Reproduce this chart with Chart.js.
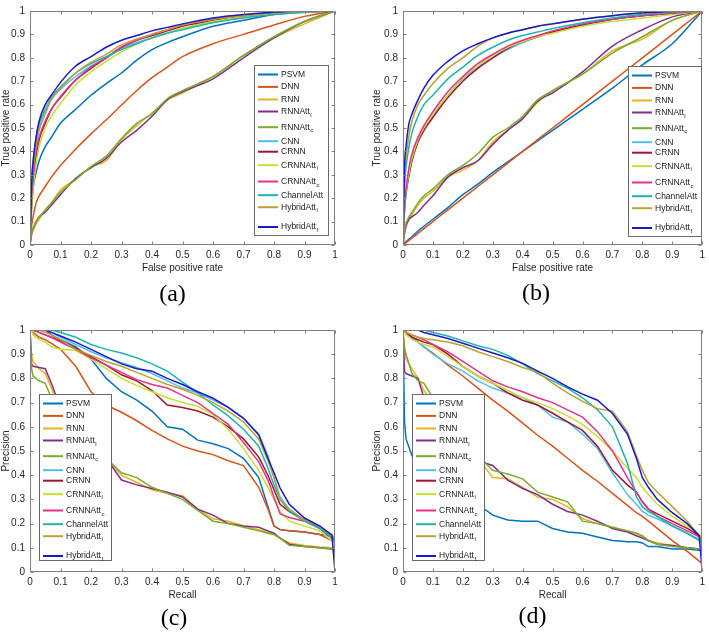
<!DOCTYPE html>
<html>
<head>
<meta charset="utf-8">
<script src="https://cdn.jsdelivr.net/npm/chart.js@4.4.0/dist/chart.umd.min.js"></script>
<style>
body{margin:0;background:#fff;width:709px;height:634px;position:relative;overflow:hidden}
canvas{position:absolute}
</style>
</head>
<body>
<canvas id="pa" width="354" height="317" style="left:0;top:0"></canvas>
<canvas id="pb" width="355" height="317" style="left:354px;top:0"></canvas>
<canvas id="pc" width="354" height="317" style="left:0;top:317px"></canvas>
<canvas id="pd" width="355" height="317" style="left:354px;top:317px"></canvas>
<script>
/* series */
const seriesNames=['PSVM','DNN','RNN','RNNAtt','RNNAtt','CNN','CRNN','CRNNAtt','CRNNAtt','ChannelAtt','HybridAtt','HybridAtt'];
const seriesSubs=['','','','l','c','','','l','c','','l','f'];
const seriesColors=['#0072BD','#D95319','#EDB120','#7E2F8E','#77AC30','#4DBEEE','#A2142F','#C5E030','#E6308C','#1EB4AE','#BCA032','#1818CC'];

const tickLabels=['0','0.1','0.2','0.3','0.4','0.5','0.6','0.7','0.8','0.9','1'];

/* ROC: false positive rate samples */
const rocX=[0,0.005,0.01,0.02,0.03,0.05,0.07,0.1,0.15,0.2,0.25,0.3,0.35,0.4,0.45,0.5,0.6,0.7,0.8,0.9,1];

/* (a) true positive rate, one row per series */
const rocA=[
[0,0.15,0.24,0.31,0.36,0.42,0.46,0.52,0.58,0.64,0.69,0.735,0.79,0.835,0.865,0.89,0.935,0.96,0.985,0.995,1],
[0,0.08,0.12,0.18,0.21,0.25,0.29,0.34,0.41,0.475,0.535,0.598,0.66,0.715,0.76,0.805,0.86,0.9,0.94,0.977,1],
[0,0.04,0.06,0.09,0.11,0.15,0.18,0.235,0.28,0.335,0.36,0.45,0.51,0.565,0.62,0.65,0.72,0.81,0.885,0.945,1],
[0,0.05,0.07,0.1,0.12,0.14,0.17,0.215,0.285,0.33,0.37,0.44,0.49,0.55,0.62,0.655,0.71,0.8,0.885,0.955,1],
[0,0.05,0.07,0.1,0.12,0.15,0.18,0.225,0.28,0.335,0.38,0.455,0.52,0.56,0.625,0.66,0.72,0.81,0.89,0.955,1],
[0,0.25,0.33,0.43,0.49,0.56,0.62,0.665,0.72,0.765,0.8,0.84,0.865,0.885,0.905,0.925,0.955,0.975,0.99,0.997,1],
[0,0.18,0.27,0.38,0.45,0.52,0.58,0.63,0.705,0.755,0.8,0.845,0.875,0.895,0.915,0.935,0.96,0.98,0.993,0.998,1],
[0,0.16,0.24,0.35,0.42,0.5,0.55,0.605,0.685,0.74,0.785,0.825,0.86,0.885,0.905,0.925,0.955,0.975,0.99,0.997,1],
[0,0.2,0.28,0.4,0.46,0.53,0.58,0.635,0.705,0.76,0.8,0.845,0.875,0.9,0.92,0.94,0.965,0.98,0.993,0.998,1],
[0,0.28,0.36,0.46,0.52,0.58,0.63,0.675,0.735,0.775,0.805,0.835,0.86,0.885,0.905,0.92,0.95,0.97,0.985,0.995,1],
[0,0.22,0.32,0.43,0.5,0.57,0.625,0.67,0.735,0.78,0.815,0.855,0.88,0.9,0.92,0.94,0.965,0.98,0.993,0.998,1],
[0,0.24,0.35,0.46,0.53,0.6,0.64,0.695,0.765,0.805,0.845,0.875,0.895,0.915,0.93,0.945,0.97,0.985,0.995,1,1]
];

/* (b) true positive rate */
const rocB=[
[0,0.01,0.015,0.025,0.035,0.06,0.08,0.11,0.16,0.215,0.26,0.31,0.355,0.4,0.445,0.49,0.58,0.67,0.77,0.86,1],
[0,0.005,0.01,0.02,0.03,0.05,0.07,0.1,0.15,0.2,0.25,0.3,0.35,0.4,0.45,0.5,0.6,0.7,0.8,0.9,1],
[0,0.05,0.08,0.11,0.13,0.17,0.2,0.23,0.29,0.32,0.36,0.44,0.49,0.54,0.61,0.66,0.73,0.83,0.88,0.96,1],
[0,0.05,0.08,0.11,0.12,0.14,0.17,0.21,0.29,0.33,0.36,0.43,0.49,0.54,0.615,0.65,0.74,0.85,0.92,0.975,1],
[0,0.06,0.09,0.12,0.14,0.18,0.21,0.24,0.3,0.34,0.39,0.46,0.5,0.55,0.62,0.66,0.73,0.82,0.89,0.96,1],
[0,0.15,0.22,0.3,0.36,0.44,0.5,0.555,0.64,0.71,0.76,0.8,0.835,0.865,0.89,0.91,0.94,0.965,0.98,0.99,1],
[0,0.15,0.22,0.3,0.36,0.44,0.49,0.545,0.63,0.7,0.755,0.8,0.84,0.87,0.89,0.91,0.94,0.965,0.98,0.99,1],
[0,0.16,0.23,0.31,0.37,0.45,0.5,0.56,0.64,0.715,0.765,0.81,0.845,0.87,0.89,0.905,0.935,0.955,0.97,0.985,1],
[0,0.17,0.24,0.33,0.39,0.46,0.51,0.57,0.655,0.72,0.775,0.815,0.85,0.875,0.895,0.915,0.945,0.965,0.98,0.99,1],
[0,0.25,0.33,0.42,0.48,0.55,0.6,0.64,0.71,0.76,0.81,0.845,0.875,0.895,0.91,0.925,0.95,0.97,0.985,0.995,1],
[0,0.28,0.37,0.47,0.53,0.6,0.64,0.69,0.755,0.8,0.85,0.885,0.905,0.92,0.935,0.945,0.965,0.98,0.99,0.997,1],
[0,0.33,0.42,0.52,0.56,0.62,0.67,0.725,0.785,0.83,0.86,0.885,0.905,0.92,0.935,0.945,0.965,0.98,0.992,0.998,1]
];

/* PR: recall samples */
const prX=[0,0.005,0.01,0.03,0.05,0.07,0.1,0.15,0.2,0.25,0.3,0.35,0.4,0.45,0.5,0.55,0.6,0.65,0.7,0.75,0.78,0.8,0.82,0.85,0.9,0.95,0.99,1];

/* (c) precision */
const prC=[
[1,1,1,1,1,0.98,0.96,0.93,0.88,0.8,0.745,0.71,0.665,0.6,0.59,0.545,0.53,0.51,0.47,0.39,0.27,0.19,0.175,0.17,0.165,0.155,0.15,0.13],
[1,1,0.99,0.97,0.96,0.945,0.92,0.85,0.745,0.69,0.66,0.625,0.585,0.55,0.52,0.5,0.485,0.46,0.44,0.35,0.26,0.19,0.175,0.17,0.165,0.155,0.13,0.12],
[1,0.9,0.87,0.84,0.82,0.76,0.66,0.6,0.53,0.47,0.4,0.37,0.34,0.325,0.315,0.26,0.22,0.21,0.19,0.175,0.165,0.155,0.14,0.12,0.11,0.103,0.1,0.095],
[1,0.86,0.85,0.845,0.84,0.78,0.68,0.6,0.52,0.47,0.38,0.36,0.345,0.33,0.31,0.26,0.235,0.2,0.19,0.185,0.17,0.16,0.14,0.115,0.105,0.1,0.095,0.095],
[1,0.84,0.81,0.79,0.78,0.72,0.65,0.59,0.52,0.47,0.41,0.39,0.35,0.325,0.3,0.255,0.21,0.2,0.185,0.17,0.16,0.155,0.14,0.11,0.105,0.1,0.095,0.095],
[1,1,1,1,1,0.99,0.97,0.94,0.91,0.885,0.865,0.845,0.82,0.79,0.76,0.74,0.71,0.68,0.635,0.57,0.48,0.39,0.31,0.26,0.21,0.18,0.14,0.13],
[1,1,1,0.99,0.98,0.97,0.955,0.925,0.89,0.855,0.815,0.79,0.75,0.69,0.68,0.665,0.64,0.6,0.55,0.475,0.4,0.34,0.28,0.25,0.215,0.18,0.14,0.12],
[1,1,0.98,0.96,0.95,0.93,0.92,0.915,0.88,0.84,0.8,0.77,0.745,0.72,0.7,0.685,0.65,0.59,0.51,0.42,0.35,0.3,0.25,0.21,0.19,0.17,0.13,0.12],
[1,1,1,0.99,0.98,0.97,0.95,0.92,0.885,0.855,0.825,0.795,0.775,0.76,0.73,0.7,0.655,0.61,0.535,0.455,0.38,0.31,0.24,0.225,0.21,0.18,0.15,0.14],
[1,1,1,1,1,1,0.99,0.97,0.94,0.92,0.905,0.885,0.86,0.83,0.785,0.74,0.69,0.645,0.59,0.52,0.43,0.36,0.3,0.25,0.21,0.18,0.14,0.13],
[1,1,1,1,0.99,0.98,0.96,0.92,0.895,0.87,0.85,0.825,0.8,0.775,0.755,0.73,0.7,0.665,0.62,0.55,0.46,0.39,0.3,0.26,0.215,0.19,0.15,0.14],
[1,1,1,1,1,0.99,0.975,0.95,0.92,0.89,0.86,0.84,0.83,0.8,0.775,0.745,0.718,0.68,0.635,0.566,0.47,0.41,0.347,0.28,0.223,0.19,0.153,0]
];

/* (d) precision */
const prD=[
[1,0.62,0.55,0.48,0.48,0.47,0.44,0.38,0.33,0.28,0.235,0.215,0.21,0.21,0.18,0.165,0.16,0.145,0.13,0.125,0.125,0.12,0.105,0.105,0.095,0.095,0.09,0.09],
[1,0.995,0.99,0.97,0.95,0.93,0.905,0.855,0.81,0.76,0.71,0.665,0.615,0.565,0.52,0.47,0.42,0.375,0.325,0.275,0.245,0.23,0.21,0.18,0.13,0.085,0.045,0.035],
[1,0.9,0.88,0.84,0.8,0.75,0.7,0.62,0.55,0.47,0.39,0.385,0.35,0.31,0.3,0.27,0.22,0.2,0.185,0.17,0.16,0.145,0.13,0.12,0.11,0.1,0.095,0.095],
[1,0.83,0.82,0.81,0.8,0.72,0.66,0.58,0.52,0.46,0.44,0.38,0.345,0.32,0.28,0.25,0.235,0.21,0.18,0.165,0.15,0.14,0.13,0.115,0.11,0.1,0.095,0.095],
[1,0.93,0.9,0.82,0.79,0.78,0.72,0.63,0.55,0.48,0.42,0.405,0.385,0.33,0.31,0.29,0.21,0.2,0.185,0.17,0.16,0.15,0.13,0.115,0.105,0.1,0.095,0.095],
[1,1,0.99,0.97,0.95,0.93,0.9,0.86,0.83,0.79,0.76,0.74,0.72,0.69,0.64,0.62,0.57,0.51,0.41,0.32,0.28,0.25,0.235,0.22,0.19,0.16,0.135,0.13],
[1,1,0.99,0.97,0.96,0.95,0.94,0.9,0.85,0.81,0.78,0.74,0.71,0.69,0.656,0.62,0.585,0.52,0.42,0.36,0.33,0.29,0.26,0.24,0.21,0.18,0.15,0.14],
[1,0.99,0.98,0.96,0.95,0.94,0.93,0.89,0.85,0.81,0.78,0.75,0.72,0.7,0.675,0.645,0.61,0.56,0.5,0.43,0.39,0.35,0.32,0.28,0.23,0.19,0.155,0.14],
[1,1,0.99,0.98,0.97,0.96,0.94,0.91,0.87,0.83,0.79,0.765,0.745,0.72,0.7,0.67,0.64,0.58,0.5,0.39,0.33,0.29,0.26,0.23,0.2,0.17,0.145,0.13],
[1,1,1,1,1,1,0.99,0.975,0.955,0.935,0.92,0.895,0.86,0.82,0.79,0.76,0.72,0.67,0.6,0.45,0.31,0.27,0.25,0.23,0.19,0.16,0.13,0.12],
[1,1,0.99,0.98,0.97,0.965,0.96,0.95,0.935,0.91,0.89,0.87,0.845,0.825,0.78,0.74,0.705,0.675,0.665,0.58,0.48,0.42,0.37,0.33,0.27,0.21,0.15,0.13],
[1,1,1,1,1,0.99,0.98,0.965,0.945,0.925,0.905,0.885,0.862,0.83,0.8,0.765,0.735,0.71,0.655,0.57,0.47,0.39,0.35,0.3,0.245,0.2,0.15,0]
];

/* legend row offsets (px from first row) */
const legendRowY=[0,12.4,25,37,52.7,66.7,77.2,90.7,107,120.7,132.7,152.5];

Chart.defaults.font.family='"Liberation Sans", Arial, sans-serif';
Chart.defaults.font.size=10;
Chart.defaults.color='#262626';

/* box, inward ticks, legend and caption like matlab */
const framePlugin={
id:'frame',
afterDraw(chart,args,opts){
const ctx=chart.ctx,a=chart.chartArea;
const sx=chart.scales.x,sy=chart.scales.y;
const L=Math.round(a.left)+0.5,R=Math.round(a.right)-0.5,T=Math.round(a.top)+0.5,B=Math.round(a.bottom)-0.5;
ctx.save();
ctx.strokeStyle='#808080';
ctx.lineWidth=1;
ctx.beginPath();
sx.ticks.forEach(t=>{
const px=Math.round(sx.getPixelForValue(t.value))+0.5;
ctx.moveTo(px,B);ctx.lineTo(px,B-3);
ctx.moveTo(px,T);ctx.lineTo(px,T+3);
});
sy.ticks.forEach(t=>{
const py=Math.round(sy.getPixelForValue(t.value))+0.5;
ctx.moveTo(L,py);ctx.lineTo(L+3,py);
ctx.moveTo(R,py);ctx.lineTo(R-3,py);
});
ctx.stroke();
ctx.strokeRect(L,T,R-L,B-T);

const lg=opts.legend;
ctx.fillStyle='#fff';
ctx.fillRect(lg.x,lg.y,lg.w,lg.h);
ctx.strokeStyle='#6a6a6a';
ctx.strokeRect(lg.x+0.5,lg.y+0.5,lg.w,lg.h);
ctx.textBaseline='middle';
chart.data.datasets.forEach((ds,i)=>{
const y=lg.y+9.5+legendRowY[i];
ctx.strokeStyle=ds.borderColor;
ctx.lineWidth=2;
ctx.beginPath();ctx.moveTo(lg.x+4,y);ctx.lineTo(lg.x+24,y);ctx.stroke();
ctx.fillStyle='#1a1a1a';
ctx.font='8.5px "Liberation Sans", Arial, sans-serif';
ctx.fillText(seriesNames[i],lg.x+27,y);
if(seriesSubs[i]){
const w=ctx.measureText(seriesNames[i]).width;
ctx.font='6px "Liberation Sans", Arial, sans-serif';
ctx.fillText(seriesSubs[i],lg.x+27+w+0.5,y+3.5);
}
});

const cap=opts.caption;
ctx.fillStyle='#000';
ctx.font='24px "Liberation Serif", "Times New Roman", serif';
ctx.textAlign='center';
ctx.textBaseline='middle';
ctx.fillText(cap.text,cap.x,cap.y);
ctx.restore();
}
};

function makePanel(id,xs,rows,cfg){
const datasets=rows.map((row,i)=>({
label:seriesNames[i]+seriesSubs[i],
data:row.map((v,k)=>({x:xs[k],y:v})),
borderColor:seriesColors[i],
borderWidth:1.5,
pointRadius:0,
fill:false,
order:rows.length-i,
cubicInterpolationMode:cfg.smooth?'monotone':'default'
}));
const axisCommon={
type:'linear',min:0,max:1,
grid:{display:false,drawTicks:false},
border:{display:false}
};
new Chart(document.getElementById(id),{
type:'line',
data:{datasets},
plugins:[framePlugin],
options:{
responsive:false,
animation:false,
devicePixelRatio:1,
layout:{padding:cfg.pad},
scales:{
x:Object.assign({},axisCommon,{
ticks:{stepSize:0.1,autoSkip:false,maxRotation:0,padding:4,callback:(v,i)=>tickLabels[i]},
title:{display:true,text:cfg.xTitle,padding:{top:0,bottom:1}},
afterFit:s=>{s.height=30;}
}),
y:Object.assign({},axisCommon,{
ticks:{stepSize:0.1,padding:5,callback:(v,i)=>tickLabels[i]},
title:{display:true,text:cfg.yTitle,padding:{top:0,bottom:0}},
afterFit:s=>{s.width=cfg.yW;}
})
},
plugins:{
legend:{display:false},
tooltip:{enabled:false},
frame:{legend:cfg.legend,caption:cfg.caption}
}
}
});
}

makePanel('pa',rocX,rocA,{smooth:true,xTitle:'False positive rate',yTitle:'True positive rate',
caption:{text:'(a)',x:172.5,y:295},
pad:{left:0,top:3,right:19,bottom:42},yW:30,legend:{x:254,y:65,w:74,h:170}});
makePanel('pb',rocX,rocB,{smooth:true,xTitle:'False positive rate',yTitle:'True positive rate',
caption:{text:'(b)',x:182,y:294},
pad:{left:17,top:3,right:1,bottom:42},yW:32,legend:{x:274,y:66,w:73,h:170}});
makePanel('pc',prX,prC,{smooth:false,xTitle:'Recall',yTitle:'Precision',
caption:{text:'(c)',x:174,y:302},
pad:{left:0,top:13,right:19,bottom:32},yW:30,legend:{x:39,y:77,w:72,h:166}});
makePanel('pd',prX,prD,{smooth:false,xTitle:'Recall',yTitle:'Precision',
caption:{text:'(d)',x:178.5,y:300},
pad:{left:17,top:13,right:1,bottom:32},yW:32,legend:{x:58,y:77,w:72,h:166}});
</script>
</body>
</html>
